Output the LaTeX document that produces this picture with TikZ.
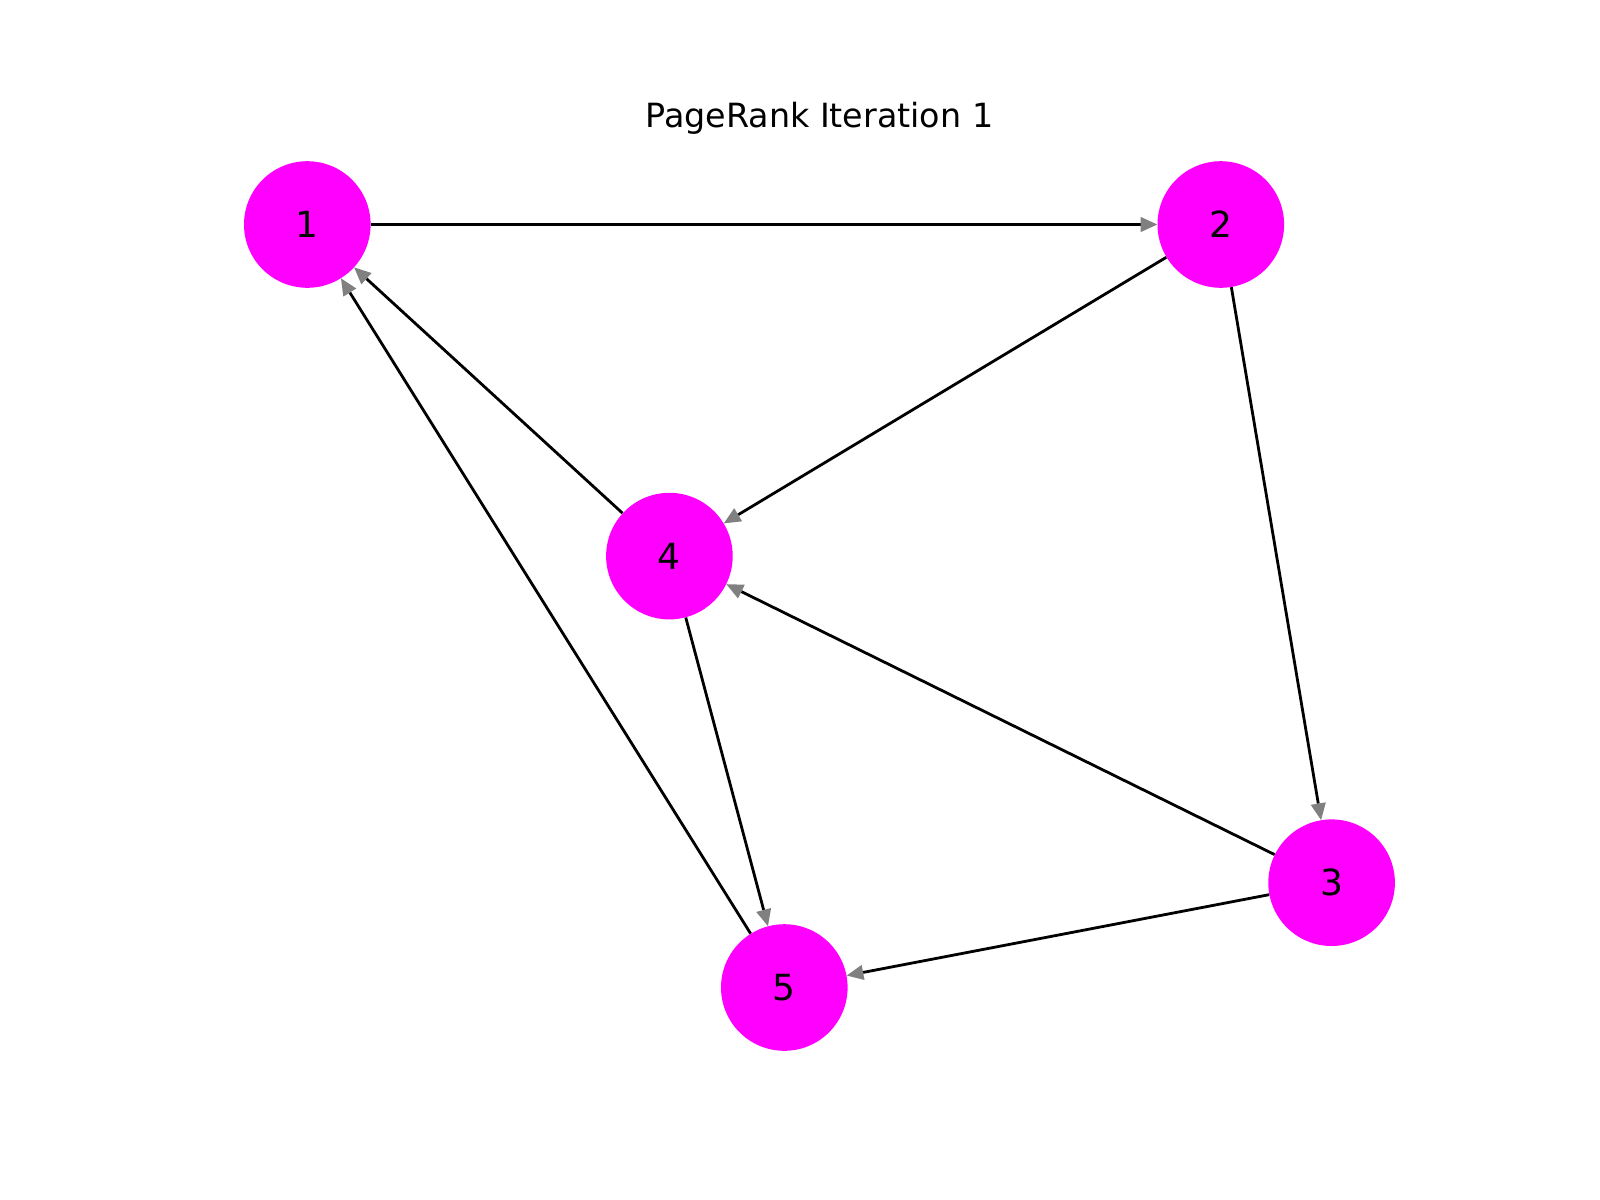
\documentclass[tikz,border=0pt]{standalone}
\usepackage{fontspec}
\setmainfont{DejaVu Sans}
\usetikzlibrary{arrows.meta}
\begin{document}
\begin{tikzpicture}[x=0.75pt,y=-0.75pt,
  vertex/.style={circle,fill={rgb,255:red,255;green,0;blue,255},draw=none,minimum size=126.6*0.75pt,inner sep=0pt,font=\fontsize{27}{32}\selectfont},
  edge/.style={line width=2.1pt,black,-{Triangle[length=12.5pt,width=11.5pt,fill=gray,color=gray,line width=0pt]}}]
\useasboundingbox[fill=white] (0,0) rectangle (1600,1200);
\node[font=\fontsize{25}{30}\selectfont] (title) at (819.4,118.5) {PageRank Iteration 1};
\node[vertex] (n1) at (307.3,224.5) {1};
\node[vertex] (n2) at (1220.8,224.5) {2};
\node[vertex] (n4) at (669.4,556.1) {4};
\node[vertex] (n3) at (1331.6,882.7) {3};
\node[vertex] (n5) at (784.3,987.5) {5};
\draw[edge] (n1) -- (n2);
\draw[edge] (n2) -- (n4);
\draw[edge] (n2) -- (n3);
\draw[edge] (n4) -- (n1);
\draw[edge] (n5) -- (n1);
\draw[edge] (n4) -- (n5);
\draw[edge] (n3) -- (n4);
\draw[edge] (n3) -- (n5);
\end{tikzpicture}
\end{document}
